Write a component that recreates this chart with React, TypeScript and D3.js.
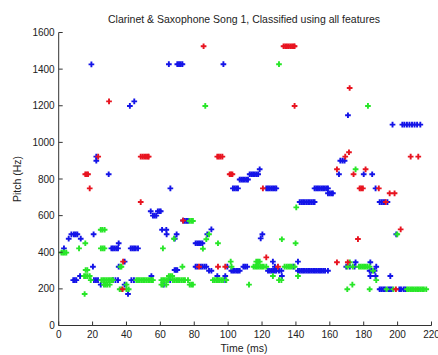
import React from "react";
import * as d3 from "d3";

const title = "Clarinet & Saxophone Song 1, Classified using all features";
const xTicks = [0, 20, 40, 60, 80, 100, 120, 140, 160, 180, 200, 220];
const yTicks = [0, 200, 400, 600, 800, 1000, 1200, 1400, 1600];

const redPts: [number, number][] = [
  [15.7, 826], [16.5, 826], [17.3, 826], [18.3, 749], [23.3, 922], [29.7, 1224],
  [38, 349], [37.7, 198], [48.4, 674],
  [48.4, 922], [49.5, 922], [50.5, 922], [51.5, 922], [52.5, 922], [53.1, 922],
  [73.4, 573], [82.8, 321], [85.5, 1525],
  [93.6, 922], [94.5, 922], [95.5, 922], [96.6, 922],
  [94, 321], [98.3, 321], [100.9, 826], [101.7, 826], [102.5, 826],
  [120.5, 749], [122.5, 372], [129.4, 321],
  [132.7, 1525], [133.7, 1525], [134.7, 1525], [135.7, 1525], [136.7, 1525], [137.7, 1525], [138.7, 1525], [139.2, 1525],
  [139.2, 1199], [164.2, 853], [164.2, 345], [169.1, 922], [171.3, 946], [170.6, 345],
  [171.7, 1297], [174, 826], [176.6, 472], [177.6, 749], [178.5, 749], [179.5, 749],
  [181.1, 853], [188.9, 749], [195.3, 722], [198.2, 722], [199, 198], [201.8, 525],
  [207.7, 922], [212.2, 922], [193, 674],
];

const greenPts: [number, number][] = [
  [86.5, 1199], [130, 1427], [182.5, 1199],
  [24.8, 523], [25.8, 523], [27.1, 523], [15.7, 449], [68, 474],
  [12, 421], [24.9, 421], [26, 421], [27, 421], [61.5, 421],
  [1.6, 398], [2.6, 398], [3.5, 398], [4.5, 398],
  [36.4, 321], [37, 321], [15.9, 303], [16.9, 303],
  [15, 270], [16, 270], [17, 270], [18.3, 270], [18.9, 248],
  [25.2, 248], [26.2, 248], [27.2, 248], [28.2, 248], [29.2, 248], [30.2, 248], [31.2, 248], [32, 248],
  [45.8, 248], [46.8, 248], [47.8, 248], [48.8, 248], [49.8, 248], [50.8, 248], [51.8, 248], [52.8, 248], [53.8, 248], [54.8, 248], [55.6, 248],
  [60.6, 248], [61.6, 248], [62.6, 248], [63.6, 248], [64.5, 248],
  [65, 270], [66, 270], [67, 270],
  [67.4, 248], [68.4, 248], [69.4, 248], [70.4, 248], [71.4, 248], [72.5, 248], [73.5, 248], [74.5, 248], [76.3, 248],
  [26.7, 223], [27.7, 223], [28.7, 223], [30.1, 223], [40, 223],
  [60.6, 223], [61.5, 223], [63.5, 223],
  [36, 198], [37, 198], [40, 198], [41.3, 198], [15.3, 172],
  [140.2, 645], [77.2, 571], [78.2, 571], [79.2, 571],
  [88.7, 498], [87.1, 471], [94, 449], [85.1, 419], [131.7, 471], [139.8, 449],
  [101.5, 349], [116.6, 349], [117.6, 349], [118.6, 349],
  [73, 321], [102, 321], [115, 321], [116, 321], [117, 321], [118, 321], [119, 321], [120, 321], [121, 321], [122.5, 321],
  [133.3, 321], [134.5, 321], [135.5, 321], [136.5, 321], [137.5, 321], [139.2, 321],
  [126.4, 270], [141.2, 270],
  [91, 248], [92, 248], [93, 248], [94, 248], [95, 248], [96, 248], [97, 248], [98.9, 248],
  [130, 248], [131.4, 248], [77.3, 223], [78.3, 223], [79.2, 223], [112.3, 223],
  [175.2, 853], [173.3, 223], [187.4, 248], [170.3, 198], [183.5, 198], [171.8, 345],
  [170.5, 321], [173.5, 321], [177.2, 321], [178.2, 321], [179.2, 321], [180.2, 321], [181.2, 321], [182.2, 321], [183.5, 321],
  [185.5, 299], [199.8, 498],
  [193.5, 198], [197.5, 198], [205.5, 198], [206.5, 198], [207.5, 198], [208.5, 198], [209.5, 198], [210.5, 198], [211.5, 198], [212.5, 198], [213.5, 198], [214.5, 198], [215.5, 198], [216.9, 198],
];

const bluePts: [number, number][] = [
  [19.3, 1426], [22.2, 922], [22.2, 900], [29.5, 826], [42, 1199], [44.6, 1224], [65, 1427],
  [70, 1427], [71, 1427], [72, 1427], [73, 1427], [97.2, 1427], [118.6, 853], [170.7, 1148],
  [197, 1097], [202.8, 1097], [204, 1097], [205.5, 1097], [207, 1097], [208.5, 1097], [210, 1097], [211.5, 1097], [213.4, 1097],
  [166.2, 900], [167.5, 900], [168.7, 900], [65.9, 749],
  [54.3, 624], [58.5, 624], [59.5, 624], [60.2, 624], [55.6, 600], [56.6, 600], [57.6, 600],
  [73.4, 573], [5.9, 474], [7.5, 498], [9, 498], [10, 498], [11, 498], [20.6, 498], [13, 474], [35.4, 449],
  [61, 523], [63.5, 523], [63.7, 498], [69.6, 498], [68.5, 474], [3.1, 421],
  [31.1, 421], [32, 421], [33, 421], [34, 421], [35, 421],
  [42.5, 421], [43.5, 421], [44.5, 421], [45.5, 421], [46.8, 421],
  [38.9, 349], [35.4, 321], [20.2, 321], [68.4, 303], [69.2, 303], [70, 303], [12.6, 270],
  [8.6, 248], [9.5, 248], [10.4, 248], [20.8, 248], [22, 248], [23.2, 248], [32, 248], [33.5, 248], [35, 248],
  [42.9, 248], [44.4, 248], [54.7, 270], [65.8, 248], [24.8, 223], [38.9, 223], [62, 223], [40.9, 172],
  [112.7, 826], [113.7, 826], [114.7, 826], [115.7, 826], [116.7, 826], [117.7, 826],
  [106.8, 797], [107.8, 797], [108.8, 797], [109.8, 797], [110.8, 797], [111.7, 797],
  [102.8, 749], [103.8, 749], [104.8, 749], [105.8, 749],
  [122.5, 749], [123.5, 749], [124.5, 749], [125.5, 749], [126.5, 749], [127.5, 749], [128.4, 749],
  [142.2, 674], [143.2, 674], [144.2, 674], [145.2, 674], [146.2, 674], [147.2, 674], [148.2, 674], [149.2, 674], [150.2, 674], [151, 674],
  [74.3, 571], [75.3, 571], [76.3, 571], [90.1, 525], [87.7, 498],
  [80.8, 449], [81.8, 449], [82.8, 449], [83.8, 449], [84.8, 449],
  [119.2, 476], [120.2, 498], [126.4, 349], [141.2, 349],
  [80.8, 321], [81.8, 321], [83.8, 321], [84.8, 321], [86, 321], [87.1, 321], [99.5, 321],
  [109, 321], [110, 321], [111.2, 321], [127.6, 321], [138.5, 321],
  [88.7, 299], [90.1, 299], [101.9, 299], [102.9, 299], [103.9, 299], [104.9, 299], [105.8, 299], [106.8, 299],
  [123.5, 299], [124.5, 299], [125.5, 299], [126.5, 299], [127.5, 299], [128.4, 299], [130, 299], [131.4, 299],
  [141.2, 299], [142.2, 299], [143.2, 299], [144.2, 299], [145.2, 299], [146.2, 299], [147.2, 299], [148.2, 299],
  [149.2, 299], [150.2, 299], [151.2, 299], [152.2, 299], [153.2, 299], [154.2, 299], [155.2, 299], [156.2, 299], [157.2, 299], [158.9, 299],
  [93.6, 270], [98.3, 270], [131.7, 270], [98.3, 248],
  [165.4, 826], [180, 826], [185, 826],
  [151, 749], [152, 749], [153, 749], [154, 749], [155, 749], [156, 749], [157, 749], [158, 749], [158.9, 749],
  [158.9, 722], [160, 722], [161, 722], [161.8, 722], [187, 749],
  [189.4, 674], [190.5, 674], [191.5, 674], [192.5, 674], [194, 674],
  [199.2, 498], [175.2, 345], [183.9, 345],
  [169.7, 321], [171.8, 321], [174.6, 321], [187.4, 321],
  [183.5, 299], [184.5, 299], [186.4, 299],
  [183.9, 270], [187, 270], [195.7, 270],
  [189.4, 198], [190.4, 198], [191.5, 198], [192.5, 198], [194.5, 198], [195.5, 198], [196.5, 198], [201, 198], [202, 198], [203.5, 198], [204.5, 198],
];

const W = 438;
const H = 355;

export default function App() {
  const x = d3.scaleLinear().domain([0, 220]).range([58.7, 431.5]);
  const y = d3.scaleLinear().domain([0, 1600]).range([325.5, 32.5]);
  const sym = d3.symbol().type(d3.symbolCross).size(18)() as string;
  const axisColor = "#333";
  const font = "Liberation Sans, Arial, sans-serif";

  const series: { pts: [number, number][]; color: string }[] = [
    { pts: bluePts, color: "#1414e8" },
    { pts: greenPts, color: "#28e628" },
    { pts: redPts, color: "#e81420" },
  ];

  return (
    <svg width={W} height={H} style={{ position: "fixed", left: 0, top: 0, background: "#fff" }}>
      <rect width={W} height={H} fill="#fff" />
      <text x={244} y={23} textAnchor="middle" fontFamily={font} fontSize={10.5} fill="#222">{title}</text>
      {series.map((s, i) => (
        <g key={i} fill={s.color}>
          {s.pts.map((p, j) => (
            <path key={j} d={sym} transform={`translate(${x(p[0])},${y(p[1])})`} />
          ))}
        </g>
      ))}
      <line x1={x(0)} x2={x(0)} y1={y(1600)} y2={y(0)} stroke={axisColor} strokeWidth={1} />
      <line x1={x(0)} x2={x(220)} y1={y(0)} y2={y(0)} stroke={axisColor} strokeWidth={1} />
      {yTicks.map((t) => (
        <g key={"y" + t}>
          <line x1={x(0)} x2={x(0) + 4} y1={y(t)} y2={y(t)} stroke={axisColor} />
          <text x={x(0) - 4} y={y(t) + 3.5} textAnchor="end" fontFamily={font} fontSize={10} fill="#222">{t}</text>
        </g>
      ))}
      {xTicks.map((t) => (
        <g key={"x" + t}>
          <line x1={x(t)} x2={x(t)} y1={y(0)} y2={y(0) - 4} stroke={axisColor} />
          <text x={x(t)} y={338} textAnchor="middle" fontFamily={font} fontSize={10} fill="#222">{t}</text>
        </g>
      ))}
      <text x={244} y={352} textAnchor="middle" fontFamily={font} fontSize={10.5} fill="#222">Time (ms)</text>
      <text transform={`translate(21,${y(800)}) rotate(-90)`} textAnchor="middle" fontFamily={font} fontSize={10.5} fill="#222">Pitch (Hz)</text>
    </svg>
  );
}
